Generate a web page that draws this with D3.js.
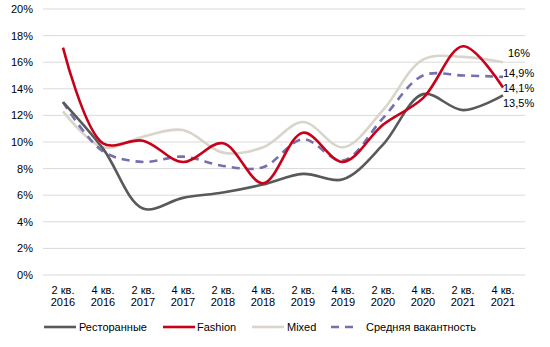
<!DOCTYPE html>
<html><head><meta charset="utf-8">
<script src="https://cdn.jsdelivr.net/npm/d3@7"></script>
<style>body{margin:0;background:#fff}svg{display:block;font-family:"Liberation Sans",Arial,sans-serif}</style>
</head><body><svg id="c" width="550" height="347"></svg>
<script>
const categories = ["2 кв.|2016","4 кв.|2016","2 кв.|2017","4 кв.|2017","2 кв.|2018","4 кв.|2018","2 кв.|2019","4 кв.|2019","2 кв.|2020","4 кв.|2020","2 кв.|2021","4 кв.|2021"];
const restaurants = [13.0, 9.5, 5.0, 5.8, 6.2, 6.8, 7.6, 7.2, 9.8, 13.6, 12.4, 13.5];
const fashion     = [17.1, 9.9, 10.1, 8.5, 9.9, 6.9, 10.7, 8.5, 11.3, 13.3, 17.2, 14.1];
const mixed       = [12.3, 9.6, 10.4, 10.9, 9.2, 9.6, 11.5, 9.6, 12.4, 16.2, 16.4, 16.0];
const average     = [13.0, 9.3, 8.5, 8.9, 8.2, 8.1, 10.2, 8.6, 11.8, 15.0, 15.0, 14.9];
const endLabels   = ["16%", "14,9%", "14,1%", "13,5%"];
const yTicks = [0,2,4,6,8,10,12,14,16,18,20];

const svg = d3.select("#c");
const x = d3.scaleBand().domain(categories).range([43, 523]);
const y = d3.scaleLinear().domain([0, 20]).range([275, 9]);
const cx = c => x(c) + x.bandwidth()/2;

// grid
svg.append("g").selectAll("line").data(yTicks).join("line")
  .attr("x1", 43).attr("x2", 525).attr("y1", d=>y(d)).attr("y2", d=>y(d))
  .attr("stroke", "#d9d9d9").attr("stroke-width", 1);
// y labels
svg.append("g").selectAll("text").data(yTicks).join("text")
  .attr("x", 33).attr("y", d=>y(d)+4).attr("text-anchor","end")
  .attr("font-size", 11).attr("fill","#000").text(d=>d+"%");
// x labels
const xl = svg.append("g").selectAll("text").data(categories).join("text")
  .attr("text-anchor","middle").attr("font-size",11).attr("fill","#000");
xl.append("tspan").attr("x", d=>cx(d)).attr("y", 294).text(d=>d.split("|")[0]);
xl.append("tspan").attr("x", d=>cx(d)).attr("y", 306).text(d=>d.split("|")[1]);

const series = [
  {name:"Mixed", vals:mixed, color:"#d9d5cb", dash:null},
  {name:"Средняя вакантность", vals:average, color:"#7470ad", dash:"8,6"},
  {name:"Ресторанные", vals:restaurants, color:"#595959", dash:null},
  {name:"Fashion", vals:fashion, color:"#c8001a", dash:null}
];
const line = d3.line().x((d,i)=>cx(categories[i])).y(d=>y(d)).curve(d3.curveCatmullRom.alpha(0.5));
svg.append("g").selectAll("path").data(series).join("path")
  .attr("d", s=>line(s.vals)).attr("fill","none").attr("stroke", s=>s.color)
  .attr("stroke-width", 2.6).attr("stroke-dasharray", s=>s.dash);

// end labels
const endPos = [52.7, 72.7, 88.3, 102.7];
svg.append("g").selectAll("text").data(endLabels).join("text")
  .attr("x", (d,i)=> i===0 ? 508 : 503).attr("y", (d,i)=>endPos[i]+4)
  .attr("font-size", 11).attr("fill","#000").text(d=>d);

// legend
const legend = [
  {name:"Ресторанные", color:"#595959", dash:null, x:44, tx:79},
  {name:"Fashion", color:"#c8001a", dash:null, x:163, tx:197},
  {name:"Mixed", color:"#d9d5cb", dash:null, x:252, tx:287},
  {name:"Средняя вакантность", color:"#7470ad", dash:"8,6", x:331, tx:366}
];
const lg = svg.append("g");
legend.forEach(l=>{
  lg.append("line").attr("x1", l.x).attr("x2", l.x+ (l.dash?28:32)).attr("y1",327).attr("y2",327)
    .attr("stroke", l.color).attr("stroke-width", 2.6).attr("stroke-dasharray", l.dash);
  lg.append("text").attr("x", l.tx).attr("y", 331).attr("font-size",11).attr("fill","#000").text(l.name);
});
</script></body></html>
